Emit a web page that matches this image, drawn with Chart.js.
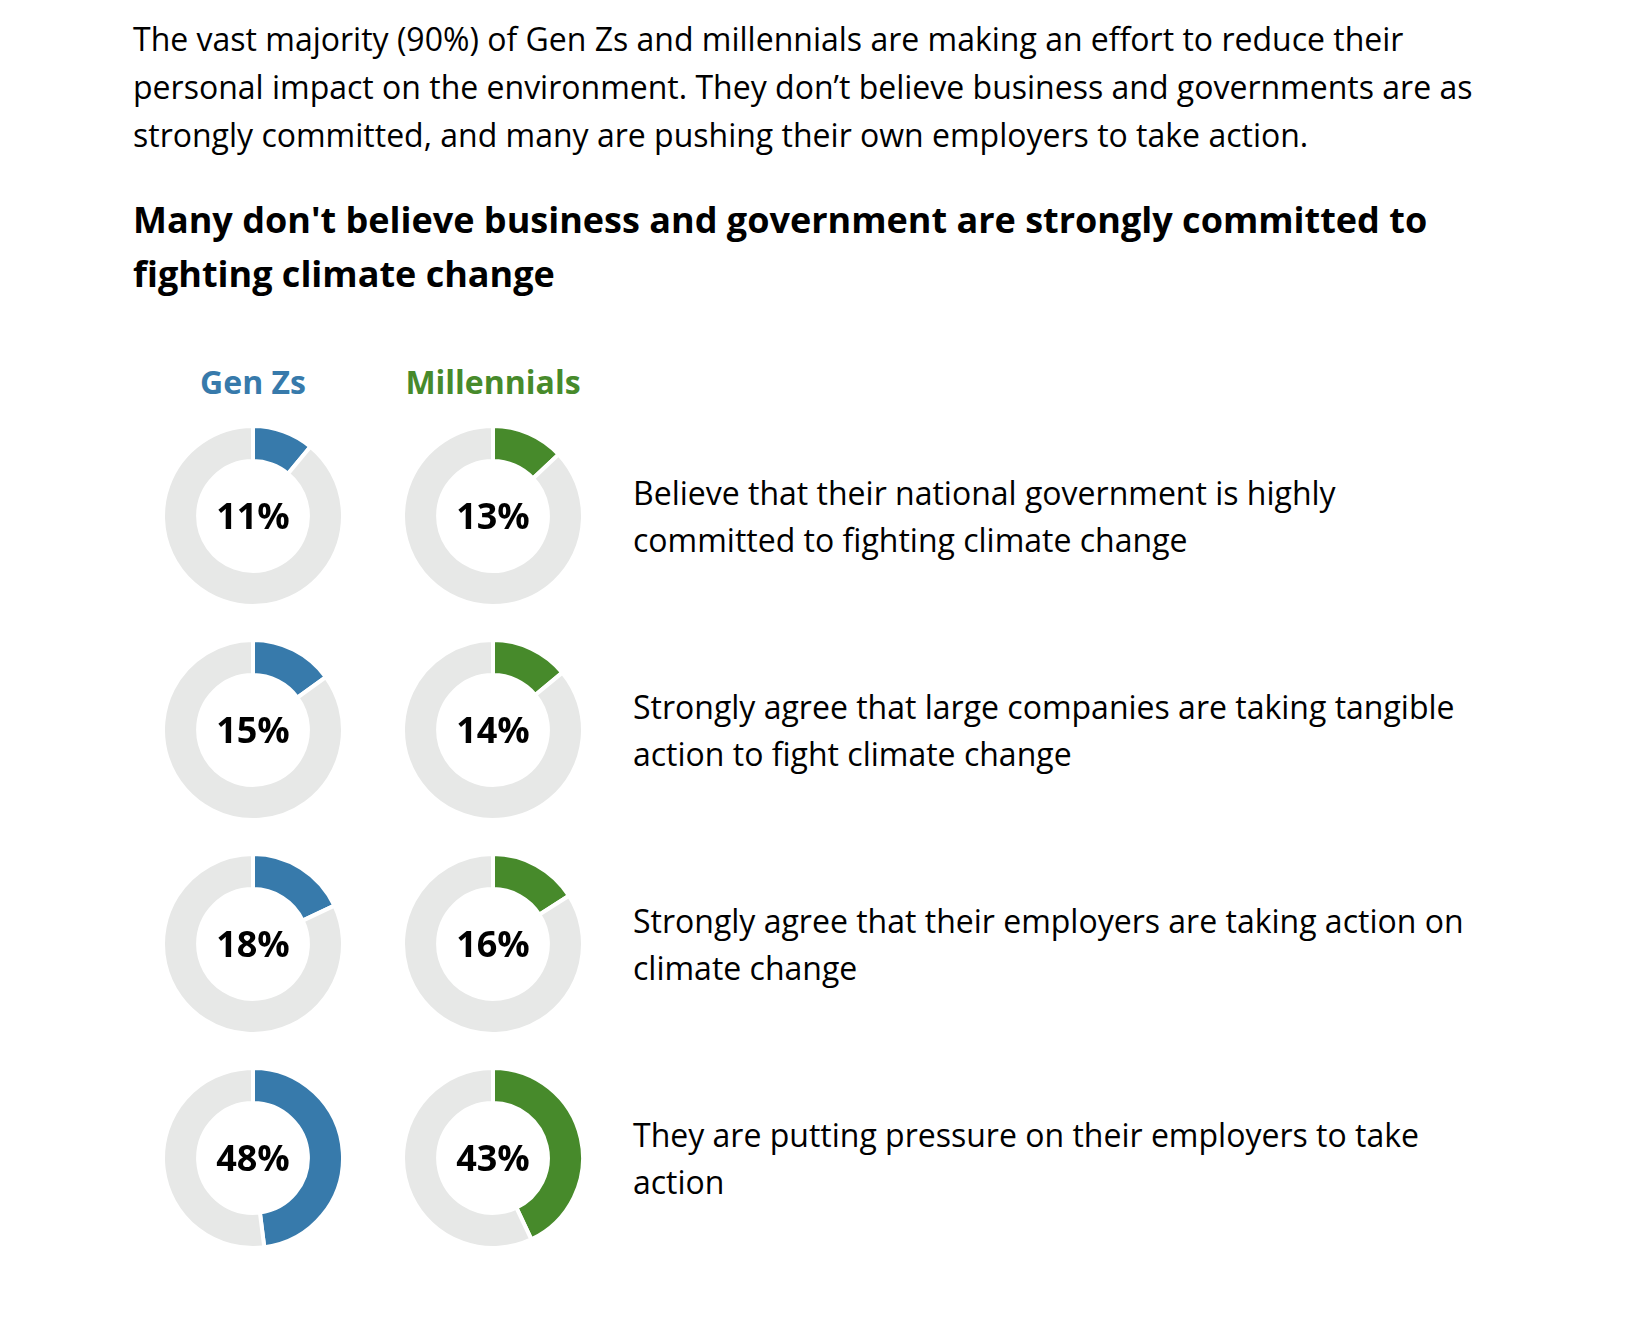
<!DOCTYPE html>
<html>
<head>
<meta charset="utf-8">
<script src="https://cdn.jsdelivr.net/npm/chart.js@4.4.0/dist/chart.umd.min.js"></script>
<style>
  html, body { margin: 0; padding: 0; background: #fff; }
  body { width: 1641px; height: 1317px; position: relative; font-family: "Open Sans", sans-serif; color: #000; overflow: hidden; }
  .intro { position: absolute; left: 133px; top: 15px; font-size: 32px; line-height: 48px; white-space: nowrap; }
  .title { position: absolute; left: 133px; top: 193px; font-size: 36px; line-height: 54px; font-weight: 700; white-space: nowrap; }
  .col-head { position: absolute; top: 362px; width: 240px; text-align: center; font-size: 32px; font-weight: 700; line-height: 40px; }
  #rows { position: absolute; left: 133px; top: 409px; }
  .row { display: flex; align-items: center; height: 214px; }
  .cell { width: 240px; height: 214px; position: relative; }
  .cell canvas { position: absolute; left: 28px; top: 15px; }
  .pct { position: absolute; left: 0; top: 0; width: 240px; height: 214px; line-height: 214px; text-align: center; font-size: 36px; font-weight: 700; }
  .desc { margin-left: 20px; font-size: 32px; line-height: 47px; white-space: nowrap; }
</style>
</head>
<body>

<div class="intro">The vast majority (90%) of Gen Zs and millennials are making an effort to reduce their<br>personal impact on the environment. They don’t believe business and governments are as<br>strongly committed, and many are pushing their own employers to take action.</div>

<div class="title">Many don't believe business and government are strongly committed to<br>fighting climate change</div>

<div class="col-head" id="head-genz" style="left:133px;"></div>
<div class="col-head" id="head-mill" style="left:373px;"></div>

<div id="rows"></div>

<script>
// ---- data ----
const groups = ['Gen Zs', 'Millennials'];
const statements = [
  ['Believe that their national government is highly', 'committed to fighting climate change'],
  ['Strongly agree that large companies are taking tangible', 'action to fight climate change'],
  ['Strongly agree that their employers are taking action on', 'climate change'],
  ['They are putting pressure on their employers to take', 'action']
];
const genZ = [11, 15, 18, 48];
const millennials = [13, 14, 16, 43];

const BLUE = '#377aab';
const GREEN = '#478a2b';
const GREY = '#e7e8e7';

document.getElementById('head-genz').textContent = groups[0];
document.getElementById('head-genz').style.color = BLUE;
document.getElementById('head-mill').textContent = groups[1];
document.getElementById('head-mill').style.color = GREEN;

function makeDonut(cell, value, color) {
  const canvas = document.createElement('canvas');
  canvas.width = 184;
  canvas.height = 184;
  cell.appendChild(canvas);

  const label = document.createElement('div');
  label.className = 'pct';
  label.textContent = value + '%';
  cell.appendChild(label);

  new Chart(canvas, {
    type: 'doughnut',
    data: {
      labels: ['Yes', 'Rest'],
      datasets: [{
        data: [value, 100 - value],
        backgroundColor: [color, GREY],
        borderColor: '#fff',
        borderWidth: 4
      }]
    },
    options: {
      responsive: false,
      animation: false,
      cutout: '61%',
      layout: { padding: 0 },
      plugins: { legend: { display: false }, tooltip: { enabled: false } }
    }
  });
}

const rows = document.getElementById('rows');
statements.forEach((lines, i) => {
  const row = document.createElement('div');
  row.className = 'row';

  const c1 = document.createElement('div');
  c1.className = 'cell';
  const c2 = document.createElement('div');
  c2.className = 'cell';
  const desc = document.createElement('div');
  desc.className = 'desc';
  desc.innerHTML = lines.join('<br>');

  row.appendChild(c1);
  row.appendChild(c2);
  row.appendChild(desc);
  rows.appendChild(row);

  makeDonut(c1, genZ[i], BLUE);
  makeDonut(c2, millennials[i], GREEN);
});
</script>
</body>
</html>
